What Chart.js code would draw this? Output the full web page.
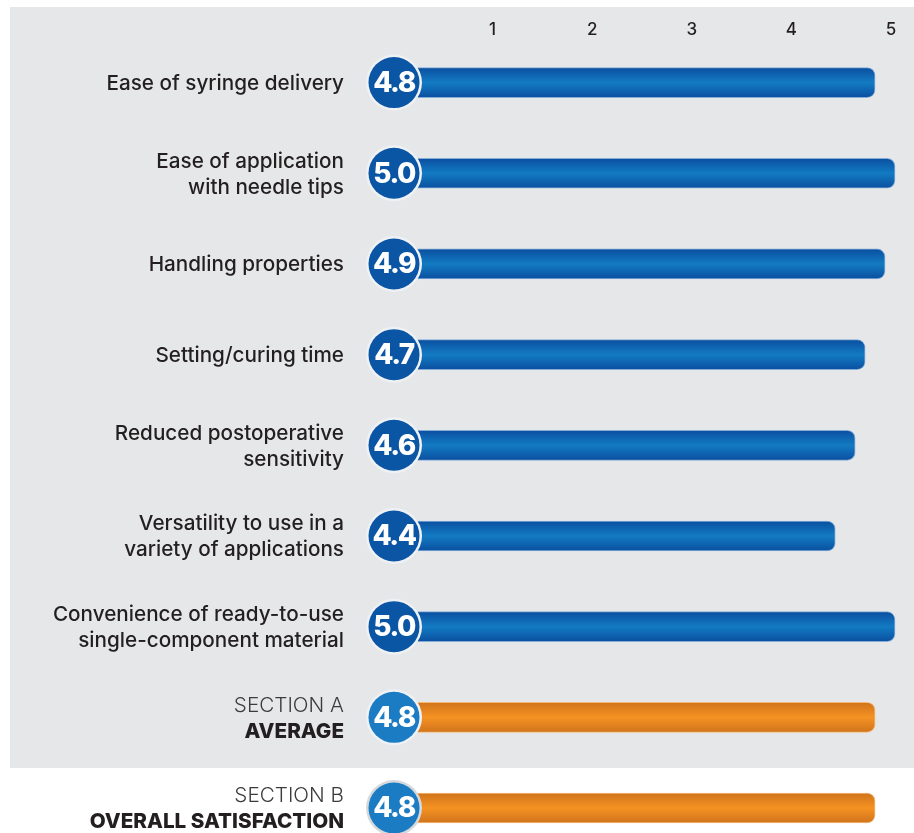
<!DOCTYPE html>
<html>
<head>
<meta charset="utf-8">
<script src="https://cdn.jsdelivr.net/npm/chart.js@4.4.1/dist/chart.umd.min.js"></script>
<style>
  html, body { margin: 0; padding: 0; background: #fff; overflow: hidden; }
  #wrap { width: 914px; height: 833px; }
</style>
</head>
<body>
<div id="wrap"><canvas id="scoreChart" width="914" height="833"></canvas></div>
<script>
// 항목 이름 (줄 단위)
const categories = [
    ['Ease of syringe delivery'],
    ['Ease of application', 'with needle tips'],
    ['Handling properties'],
    ['Setting/curing time'],
    ['Reduced postoperative', 'sensitivity'],
    ['Versatility to use in a', 'variety of applications'],
    ['Convenience of ready-to-use', 'single-component material'],
    ['SECTION A', 'AVERAGE'],
    ['SECTION B', 'OVERALL SATISFACTION']
];
const scores = [4.8, 5.0, 4.9, 4.7, 4.6, 4.4, 5.0, 4.8, 4.8];
const summaryRows = [7, 8];          // 주황색 요약 행
const xTickValues = [1, 2, 3, 4, 5];

const FONT = 'Inter, "Noto Sans", sans-serif';
const TEXT = '#231f20';

function isSummary(i) {
    return summaryRows.includes(i);
}

// 막대 그라데이션
function barFill(context) {
    const chart = context.chart;
    const yScale = chart.scales.y;
    const summary = isSummary(context.dataIndex);
    if (!yScale || !chart.chartArea) return summary ? '#ef8b21' : '#0a62b0';
    const yc = yScale.getPixelForValue(context.dataIndex);
    const g = chart.ctx.createLinearGradient(0, yc - 15, 0, yc + 15);
    if (summary) {
        g.addColorStop(0, '#d0731b');
        g.addColorStop(0.5, '#f59223');
        g.addColorStop(1, '#d0731b');
    } else {
        g.addColorStop(0, '#0a4f9f');
        g.addColorStop(0.5, '#137bc3');
        g.addColorStop(1, '#0a4f9f');
    }
    return g;
}

const panelPlugin = {
    id: 'panel',
    beforeDraw(chart) {
        const ctx = chart.ctx;
        ctx.save();
        ctx.fillStyle = '#ffffff';
        ctx.fillRect(0, 0, chart.width, chart.height);
        // 회색 배경 (섹션 A까지)
        ctx.fillStyle = '#e6e7e8';
        ctx.fillRect(10, 7, chart.width - 10, 761);
        ctx.restore();
    }
};

const rowDecorPlugin = {
    id: 'rowDecor',
    afterDatasetsDraw(chart) {
        const ctx = chart.ctx;
        const yScale = chart.scales.y;
        const xScale = chart.scales.x;
        const cx = xScale.left - 3;
        ctx.save();
        categories.forEach((lines, i) => {
            const yc = yScale.getPixelForValue(i);
            const summary = isSummary(i);

            // 점수 원
            ctx.beginPath();
            ctx.arc(cx, yc, 28, 0, Math.PI * 2);
            ctx.fillStyle = i === 8 ? '#d6d9dc' : '#eef1f5';
            ctx.fill();
            ctx.beginPath();
            ctx.arc(cx, yc, 25.5, 0, Math.PI * 2);
            ctx.fillStyle = summary ? '#1b7cc4' : '#0b55a5';
            ctx.fill();

            ctx.fillStyle = '#ffffff';
            ctx.font = '800 28px ' + FONT;
            ctx.textAlign = 'center';
            ctx.textBaseline = 'middle';
            if ('letterSpacing' in ctx) ctx.letterSpacing = '-1.5px';
            ctx.fillText(scores[i].toFixed(1), cx, yc + 1);
            if ('letterSpacing' in ctx) ctx.letterSpacing = '0px';

            // 항목 라벨
            ctx.textAlign = 'right';
            const lineH = 26;
            const top = yc - (lines.length - 1) * lineH / 2;
            lines.forEach((line, j) => {
                if (summary) {
                    ctx.font = (j === 0 ? '300 20.7px ' : '800 20.7px ') + FONT;
                    ctx.fillStyle = j === 0 ? '#3c3c3c' : TEXT;
                } else {
                    ctx.font = '500 20.7px ' + FONT;
                    ctx.fillStyle = TEXT;
                }
                ctx.fillText(line, 344, top + j * lineH + 1);
            });
        });
        ctx.restore();
    }
};

const chart = new Chart(document.getElementById('scoreChart'), {
    type: 'bar',
    data: {
        labels: categories.map(l => l.join(' ')),
        datasets: [{
            data: scores,
            backgroundColor: barFill,
            borderColor: ctx => isSummary(ctx.dataIndex) ? 'rgba(246,178,105,0.9)' : 'rgba(120,165,215,0.9)',
            borderWidth: 1,
            borderSkipped: 'start',
            borderRadius: { topLeft: 0, bottomLeft: 0, topRight: 8, bottomRight: 8 },
            barThickness: 30,
            clip: false
        }]
    },
    options: {
        indexAxis: 'y',
        responsive: false,
        animation: false,
        layout: { padding: { left: 397, right: 19, top: 12, bottom: 25 } },
        plugins: {
            legend: { display: false },
            tooltip: { enabled: false }
        },
        scales: {
            x: {
                position: 'top',
                min: 0,
                max: 5,
                afterBuildTicks: axis => {
                    axis.ticks = [0].concat(xTickValues).map(v => ({ value: v }));
                },
                grid: { display: false, drawTicks: false },
                border: { display: false },
                ticks: {
                    // 빈 두 번째 줄로 라벨을 위쪽으로 올림
                    callback: v => (v === 0 ? '' : [String(v), '']),
                    color: TEXT,
                    font: { family: FONT, size: 17, weight: '500', lineHeight: '35.3px' },
                    padding: 0,
                    labelOffset: -4,
                    maxRotation: 0
                }
            },
            y: {
                display: false,
                offset: false,
                grid: { display: false }
            }
        }
    },
    plugins: [panelPlugin, rowDecorPlugin]
});
</script>
</body>
</html>
